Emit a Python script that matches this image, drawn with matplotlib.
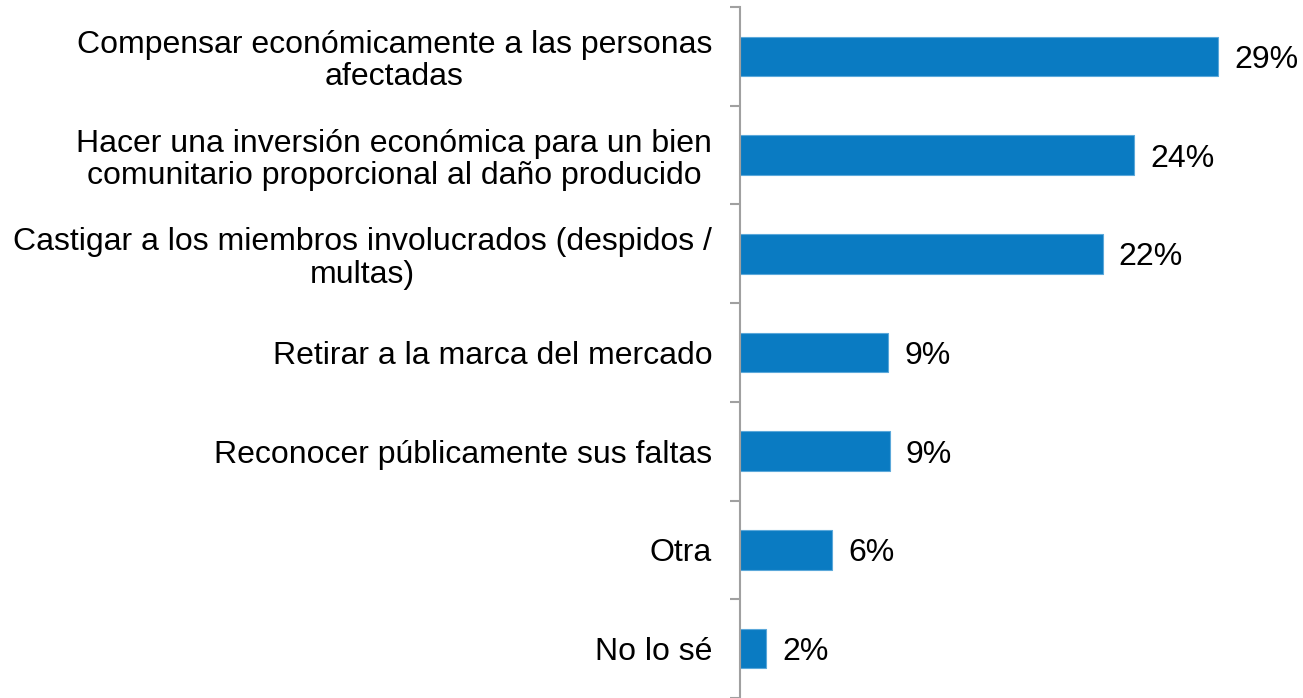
import matplotlib
matplotlib.use("Agg")
import matplotlib.pyplot as plt
from matplotlib.ticker import FixedLocator, NullLocator

categories = [
    "Compensar económicamente a las personas\nafectadas",
    "Hacer una inversión económica para un bien\ncomunitario proporcional al daño producido",
    "Castigar a los miembros involucrados (despidos /\nmultas)",
    "Retirar a la marca del mercado",
    "Reconocer públicamente sus faltas",
    "Otra",
    "No lo sé",
]
values = [29.0, 23.9, 22.0, 9.0, 9.1, 5.6, 1.6]
value_labels = ["29%", "24%", "22%", "9%", "9%", "6%", "2%"]

plt.rcParams['font.family'] = ['Liberation Sans', 'DejaVu Sans']

fig = plt.figure(figsize=(13.03, 6.98), dpi=100)
ax = fig.add_axes([740/1303, 0.0, 563/1303, 691/698])

n = len(categories)
ypos = list(range(n))
ax.barh(ypos, values, height=0.4, color='#0A7BC2', edgecolor='#5BA8DA', linewidth=0.8)
ax.set_ylim(n - 0.5, -0.5)
ax.set_xlim(0, 34.15)

ax.set_yticks(ypos)
ax.set_yticklabels(categories, fontsize=23, linespacing=1.1, multialignment='center')
for t in ax.get_yticklabels():
    t.set_verticalalignment('center_baseline')
ax.tick_params(axis='y', which='major', length=0, pad=20)
ax.yaxis.set_minor_locator(FixedLocator([i - 0.5 for i in range(n + 1)]))
ax.tick_params(axis='y', which='minor', length=7, width=1.5, color='#A0A0A0', direction='out')
ax.xaxis.set_major_locator(NullLocator())

for s in ['top', 'right', 'bottom']:
    ax.spines[s].set_visible(False)
ax.spines['left'].set_color('#A0A0A0')
ax.spines['left'].set_linewidth(1.5)

for y, v, lab in zip(ypos, values, value_labels):
    ax.annotate(lab, xy=(v, y), xytext=(11.5, 0), textcoords='offset points',
                va='center_baseline', ha='left', fontsize=23)

fig.savefig("out.png", dpi=100)
